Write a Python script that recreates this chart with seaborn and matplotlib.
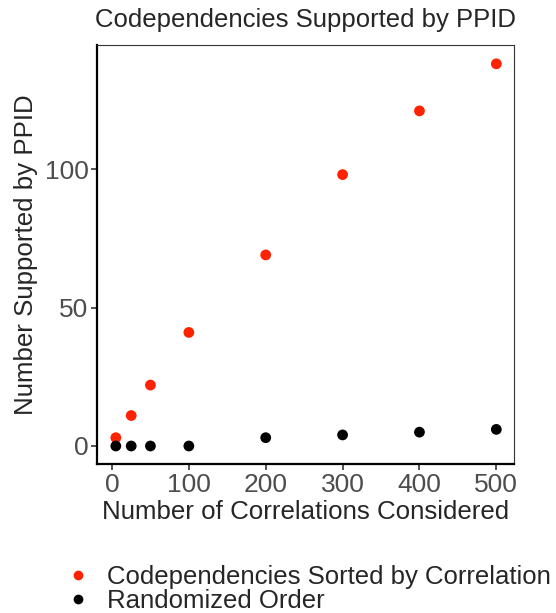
import matplotlib
matplotlib.use("Agg")
import matplotlib.pyplot as plt
import seaborn as sns
import pandas as pd

x_vals = [5, 25, 50, 100, 200, 300, 400, 500]
sorted_vals = [3, 11, 22, 41, 69, 98, 121, 138]
random_vals = [0, 0, 0, 0, 3, 4, 5, 6]
series_names = ["Codependencies Sorted by Correlation", "Randomized Order"]
colors = ["#FF2200", "#000000"]

df = pd.DataFrame({
    "x": x_vals * 2,
    "y": sorted_vals + random_vals,
    "series": [series_names[0]] * len(x_vals) + [series_names[1]] * len(x_vals),
})

sns.set_style("white")
plt.rcParams['font.family'] = ['Liberation Sans', 'DejaVu Sans']

fig = plt.figure(figsize=(5.56, 6.13), dpi=100)
ax = fig.add_axes([97/556, 1 - 464/613, (514-97)/556, (464-45)/613])

sns.scatterplot(data=df, x="x", y="y", hue="series", palette=colors,
                hue_order=series_names, s=60, edgecolor="none", ax=ax, legend=False)

ax.set_xlim(-19.5, 523)
ax.set_ylim(-6.5, 144.8)
ax.set_xticks([0, 100, 200, 300, 400, 500])
ax.set_yticks([0, 50, 100])
ax.tick_params(axis="both", labelsize=19, labelcolor="#4d4d4d", length=4.5,
               width=1.2, color="#333333", direction="out", left=True, bottom=True)
ax.tick_params(axis="y", pad=1.5)
ax.tick_params(axis="x", pad=2)
for side in ["top", "right"]:
    ax.spines[side].set_linewidth(0.8)
    ax.spines[side].set_color("#333333")
for side in ["left", "bottom"]:
    ax.spines[side].set_linewidth(1.6)
    ax.spines[side].set_color("#000000")
ax.set_xlabel("Number of Correlations Considered", fontsize=18.6, labelpad=2)
ax.set_ylabel("Number Supported by PPID", fontsize=18.6, labelpad=5)
ax.set_title("Codependencies Supported by PPID", fontsize=18.5, pad=13)

handles = [plt.Line2D([], [], marker="o", linestyle="none", markersize=7,
                      markerfacecolor=c, markeredgecolor="none") for c in colors]
fig.legend(handles, series_names, loc="lower left", bbox_to_anchor=(55/556, -0.016),
           frameon=False, fontsize=18.5, handletextpad=0.62, labelspacing=0.0,
           handlelength=1.0, borderaxespad=0.0)

fig.savefig("out.png", dpi=100)
